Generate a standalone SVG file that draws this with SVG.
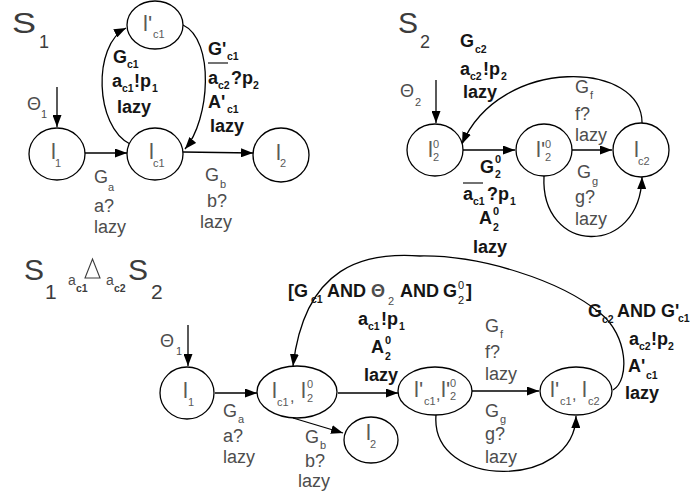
<svg xmlns="http://www.w3.org/2000/svg" width="697" height="499" viewBox="0 0 697 499">
<defs>
<style>
text{font-family:"Liberation Sans",Arial,sans-serif}
.ln{stroke:#000;stroke-width:1.3;fill:none}
.nd{fill:#fff;stroke:#000;stroke-width:1.3}
.t{font-size:30px;fill:#3c3c3c}
.t2{font-size:18px;fill:#3c3c3c}
.t3{font-size:21px;fill:#3c3c3c}
.g{font-size:18px;fill:#4d4d4d}
.b{font-size:18px;font-weight:bold;fill:#151515}
.n{font-size:22px;fill:#5a5a5a}
.s{font-size:11px}
.sb{font-size:10.5px;font-weight:bold}
.cm{font-size:16px}
</style>
<marker id="ah" viewBox="0 0 12 9" refX="12" refY="4.5" markerWidth="12" markerHeight="9" orient="auto" markerUnits="userSpaceOnUse"><path d="M0,0 L12,4.5 L0,9 z" fill="#000"/></marker>
</defs>
<rect width="697" height="499" fill="#fff"/>

<!-- ===== S1 ===== -->
<g id="s1-title"><text class="t" transform="translate(12,33) scale(1.2,1)">S</text><text class="t2" x="39" y="48">1</text></g>

<g id="connectors">
<!-- S1 -->
<line class="ln" x1="57" y1="87" x2="57" y2="127" marker-end="url(#ah)"/>
<line class="ln" x1="85" y1="153" x2="127" y2="153" marker-end="url(#ah)"/>
<line class="ln" x1="183" y1="152" x2="253" y2="153" marker-end="url(#ah)"/>
<path class="ln" d="M130 144 C95 127 92 45 126 28" marker-end="url(#ah)"/>
<path class="ln" d="M183 25 C215 40 210 120 185 149" marker-end="url(#ah)"/>
<!-- S2 -->
<line class="ln" x1="436" y1="80" x2="436" y2="123" marker-end="url(#ah)"/>
<line class="ln" x1="463" y1="150" x2="515" y2="150" marker-end="url(#ah)"/>
<line class="ln" x1="572" y1="150" x2="612" y2="150" marker-end="url(#ah)"/>
<path class="ln" d="M642 125 C645 60 500 55 462 144" marker-end="url(#ah)"/>
<path class="ln" d="M544 176 C540 255 640 258 642 177" marker-end="url(#ah)"/>
<!-- product -->
<line class="ln" x1="188" y1="325" x2="188" y2="366" marker-end="url(#ah)"/>
<line class="ln" x1="215" y1="393" x2="257" y2="393" marker-end="url(#ah)"/>
<line class="ln" x1="338" y1="393" x2="398" y2="393" marker-end="url(#ah)"/>
<line class="ln" x1="293" y1="418" x2="343" y2="433" marker-end="url(#ah)"/>
<line class="ln" x1="472" y1="391" x2="539" y2="391" marker-end="url(#ah)"/>
<path class="ln" d="M436 415 C430 490 575 490 576 416" marker-end="url(#ah)"/>
<path class="ln" d="M613 390 C630 380 628 335 600 313 C560 280 480 255 420 256 C365 252 305 265 293 366" marker-end="url(#ah)"/>
</g>

<g id="s1-l1"><ellipse class="nd" cx="57" cy="154" rx="28" ry="26"/><text class="n" x="51" y="159">l<tspan class="s" x="55" y="167">1</tspan></text></g>
<g id="s1-lc1"><ellipse class="nd" cx="155" cy="154" rx="28" ry="26"/><text class="n" x="149" y="159">l<tspan class="s" x="153" y="167">c1</tspan></text></g>
<g id="s1-lpc1"><ellipse class="nd" cx="155" cy="25" rx="28" ry="24"/><text class="n" x="143" y="31">l'<tspan class="s" x="153" y="38">c1</tspan></text></g>
<g id="s1-l2"><ellipse class="nd" cx="281" cy="155" rx="28" ry="27"/><text class="n" x="276" y="160">l<tspan class="s" x="280" y="167">2</tspan></text></g>

<g id="s1-labels">
<text class="g" x="27" y="110">Θ<tspan class="s" x="41" y="118">1</tspan></text>
<text class="b" x="113" y="63">G<tspan class="sb" x="127" y="68">c1</tspan></text>
<text class="b" x="112" y="87">a<tspan class="sb" x="122" y="92">c1</tspan><tspan x="134" y="87">!p</tspan><tspan class="sb" x="152" y="92">1</tspan></text>
<text class="b" x="117" y="113">lazy</text>
<text class="b" x="208" y="55">G'<tspan class="sb" x="227" y="60">c1</tspan></text>
<line x1="208" y1="63" x2="228" y2="63" stroke="#151515" stroke-width="1.2"/>
<text class="b" x="208" y="84">a<tspan class="sb" x="218" y="89">c2</tspan><tspan x="231" y="84">?p</tspan><tspan class="sb" x="253" y="89">2</tspan></text>
<text class="b" x="208" y="108">A'<tspan class="sb" x="227" y="113">c1</tspan></text>
<text class="b" x="210" y="132">lazy</text>
<text class="g" x="94" y="183">G<tspan class="s" x="108" y="191">a</tspan></text>
<text class="g" x="94" y="212">a?</text>
<text class="g" x="94" y="233">lazy</text>
<text class="g" x="205" y="181">G<tspan class="s" x="220" y="188">b</tspan></text>
<text class="g" x="207" y="207">b?</text>
<text class="g" x="200" y="228">lazy</text>
</g>

<!-- ===== S2 ===== -->
<g id="s2-title"><text class="t" x="398" y="33">S</text><text class="t2" x="420" y="48">2</text></g>
<g id="s2-l20"><ellipse class="nd" cx="435" cy="150" rx="28" ry="26"/><text class="n" x="428" y="157">l<tspan class="s" x="433" y="148">0</tspan><tspan class="s" x="433" y="161">2</tspan></text></g>
<g id="s2-lp20"><ellipse class="nd" cx="544" cy="150" rx="28" ry="26"/><text class="n" x="536" y="157">l'<tspan class="s" x="545" y="148">0</tspan><tspan class="s" x="545" y="161">2</tspan></text></g>
<g id="s2-lc2"><ellipse class="nd" cx="641" cy="150" rx="28" ry="27"/><text class="n" x="634" y="157">l<tspan class="s" x="638" y="165">c2</tspan></text></g>

<g id="s2-labels">
<text class="g" x="400" y="97">Θ<tspan class="s" x="415" y="106">2</tspan></text>
<text class="b" x="460" y="47">G<tspan class="sb" x="475" y="53">c2</tspan></text>
<text class="b" x="460" y="75">a<tspan class="sb" x="470" y="80">c2</tspan><tspan x="483" y="75">!p</tspan><tspan class="sb" x="501" y="80">2</tspan></text>
<text class="b" x="463" y="98">lazy</text>
<text class="g" x="575" y="93">G<tspan class="s" x="590" y="99">f</tspan></text>
<text class="g" x="575" y="120">f?</text>
<text class="g" x="575" y="141">lazy</text>
<text class="g" x="577" y="178">G<tspan class="s" x="592" y="185">g</tspan></text>
<text class="g" x="575" y="203">g?</text>
<text class="g" x="575" y="225">lazy</text>
<text class="b" x="480" y="173">G<tspan class="s" x="495" y="163">0</tspan><tspan class="sb" x="495" y="178">2</tspan></text>
<line x1="463" y1="183" x2="483" y2="183" stroke="#151515" stroke-width="1.2"/>
<text class="b" x="463" y="200">a<tspan class="sb" x="473" y="205">c1</tspan><tspan x="487" y="200">?p</tspan><tspan class="sb" x="510" y="205">1</tspan></text>
<text class="b" x="479" y="224">A<tspan class="s" x="493" y="215">0</tspan><tspan class="sb" x="493" y="231">2</tspan></text>
<text class="b" x="473" y="253">lazy</text>
</g>

<!-- ===== Product ===== -->
<g id="p-title">
<text class="t" x="24" y="280">S</text><text class="t3" x="45" y="299">1</text>
<text class="g" x="68" y="285" style="font-size:14px">a</text><text class="sb" x="76" y="292" fill="#3c3c3c">c1</text>
<path d="M85 278 L92.5 259 L100 278 Z" fill="none" stroke="#3c3c3c" stroke-width="1.1"/>
<text class="g" x="106" y="285" style="font-size:14px">a</text><text class="sb" x="114" y="292" fill="#3c3c3c">c2</text>
<text class="t" x="128" y="280">S</text><text class="t3" x="151" y="299">2</text>
</g>

<g id="p-l1"><ellipse class="nd" cx="187" cy="393" rx="27" ry="26"/><text class="n" x="183" y="398">l<tspan class="s" x="188" y="406">1</tspan></text></g>
<g id="p-lc1l20"><ellipse class="nd" cx="297" cy="392" rx="40" ry="26"/><text class="n" x="272" y="398">l<tspan class="s" x="277" y="406">c1</tspan><tspan class="cm" x="290" y="402">,</tspan><tspan x="301" y="398">l</tspan><tspan class="s" x="307" y="388">0</tspan><tspan class="s" x="307" y="402">2</tspan></text></g>
<g id="p-l2"><ellipse class="nd" cx="371" cy="440" rx="27" ry="23"/><text class="n" x="366" y="440">l<tspan class="s" x="370" y="448">2</tspan></text></g>
<g id="p-lpc1lp20"><ellipse class="nd" cx="435" cy="391" rx="37" ry="24"/><text class="n" x="414" y="397">l'<tspan class="s" x="424" y="405">c1</tspan><tspan class="cm" x="436" y="400">,</tspan><tspan x="441" y="397">l'</tspan><tspan class="s" x="450" y="387">0</tspan><tspan class="s" x="450" y="400">2</tspan></text></g>
<g id="p-lpc1lc2"><ellipse class="nd" cx="576" cy="391" rx="36" ry="24"/><text class="n" x="550" y="397">l'<tspan class="s" x="560" y="405">c1</tspan><tspan class="cm" x="572" y="400">,</tspan><tspan x="582" y="397">l</tspan><tspan class="s" x="588" y="405">c2</tspan></text></g>

<g id="p-labels">
<text class="g" x="160" y="347">Θ<tspan class="s" x="176" y="355">1</tspan></text>
<text class="g" x="223" y="417">G<tspan class="s" x="238" y="423">a</tspan></text>
<text class="g" x="223" y="442">a?</text>
<text class="g" x="223" y="463">lazy</text>
<text class="g" x="305" y="443">G<tspan class="s" x="320" y="449">b</tspan></text>
<text class="g" x="305" y="467">b?</text>
<text class="g" x="298" y="487">lazy</text>
<text class="b" x="288" y="297">[G<tspan class="sb" x="311" y="303">c1</tspan><tspan x="327" y="297">AND</tspan><tspan class="g" x="371" y="297">Θ</tspan><tspan class="s" x="388" y="305" style="fill:#4d4d4d;font-weight:normal">2</tspan><tspan x="400" y="297">AND</tspan><tspan x="443" y="297">G</tspan><tspan class="s" x="458" y="289" style="font-weight:normal">0</tspan><tspan class="s" x="458" y="304" style="font-weight:normal">2</tspan><tspan x="466" y="297">]</tspan></text>
<text class="b" x="358" y="325">a<tspan class="sb" x="368" y="330">c1</tspan><tspan x="381" y="325">!p</tspan><tspan class="sb" x="399" y="330">1</tspan></text>
<text class="b" x="371" y="353">A<tspan class="s" x="385" y="344">0</tspan><tspan class="sb" x="385" y="360">2</tspan></text>
<text class="b" x="364" y="381">lazy</text>
<text class="g" x="485" y="332">G<tspan class="s" x="500" y="338">f</tspan></text>
<text class="g" x="485" y="358">f?</text>
<text class="g" x="485" y="380">lazy</text>
<text class="g" x="485" y="417">G<tspan class="s" x="500" y="423">g</tspan></text>
<text class="g" x="485" y="440">g?</text>
<text class="g" x="485" y="463">lazy</text>
<text class="b" x="588" y="317">G<tspan class="sb" x="602" y="323">c2</tspan><tspan x="617" y="317">AND G'</tspan><tspan class="sb" x="678" y="322">c1</tspan></text>
<text class="b" x="629" y="345">a<tspan class="sb" x="639" y="350">c2</tspan><tspan x="651" y="345">!p</tspan><tspan class="sb" x="668" y="350">2</tspan></text>
<text class="b" x="628" y="372">A'<tspan class="sb" x="646" y="379">c1</tspan></text>
<text class="b" x="625" y="399">lazy</text>
</g>
</svg>
